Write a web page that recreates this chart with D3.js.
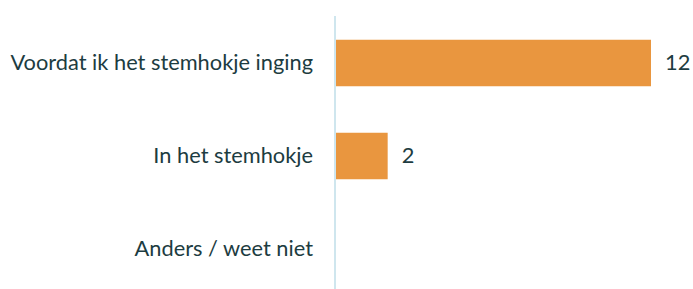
<!DOCTYPE html>
<html>
<head>
<meta charset="utf-8">
<script src="https://cdn.jsdelivr.net/npm/d3@7"></script>
<style>
  body { margin: 0; background: #fff; }
  svg { display: block; }
</style>
</head>
<body>
<svg></svg>
<script>
// basic parameters
const svgWidth = 693
const svgHeight = 289

// data
const categories = ["Voordat ik het stemhokje inging", "In het stemhokje", "Anders / weet niet"]
const values = [12, 2, 0]

const axisX = 335
const textColor = "#1d3c41"
const fontSize = "21.8px"

var svg = d3.select("svg")
  .attr("width", svgWidth)
  .attr("height", svgHeight)

var xScale = d3.scaleLinear()
  .domain([0, 12])
  .range([axisX, 651])

var yScale = d3.scaleBand()
  .domain(categories)
  .range([16.5, 295.5])
  .paddingInner(0.5)
  .paddingOuter(0.25)

// bars
svg.selectAll("rect.bar")
  .data(values.map((v, i) => ({cat: categories[i], value: v})).filter(d => d.value > 0))
  .enter()
  .append("rect")
    .attr("class", "bar")
    .attr("x", xScale(0) + 1)
    .attr("y", d => yScale(d.cat))
    .attr("width", d => xScale(d.value) - xScale(0) - 1)
    .attr("height", yScale.bandwidth())
    .attr("fill", "#e9963f")

// category axis (left)
var yAxis = d3.axisLeft(yScale).tickSize(0).tickPadding(22)
var yg = svg.append("g")
  .attr("transform", "translate(" + axisX + ",0)")
  .call(yAxis)
yg.select(".domain").remove()
yg.selectAll("text")
  .attr("fill", textColor)
  .attr("dy", "0.3em")
  .style("font-family", "Lato, 'Open Sans', sans-serif")
  .style("font-size", fontSize)

// axis line
svg.append("line")
  .attr("x1", axisX).attr("x2", axisX)
  .attr("y1", 16).attr("y2", svgHeight)
  .attr("stroke", "#cfe6ee")
  .attr("stroke-width", 2)

// value labels
svg.selectAll("text.value")
  .data(values.map((v, i) => ({cat: categories[i], value: v})).filter(d => d.value > 0))
  .enter()
  .append("text")
    .attr("class", "value")
    .attr("x", d => xScale(d.value) + 14)
    .attr("y", d => yScale(d.cat) + yScale.bandwidth() / 2)
    .attr("dy", "0.3em")
    .attr("fill", textColor)
    .style("font-family", "Lato, 'Open Sans', sans-serif")
    .style("font-size", fontSize)
    .text(d => d.value)
</script>
</body>
</html>
